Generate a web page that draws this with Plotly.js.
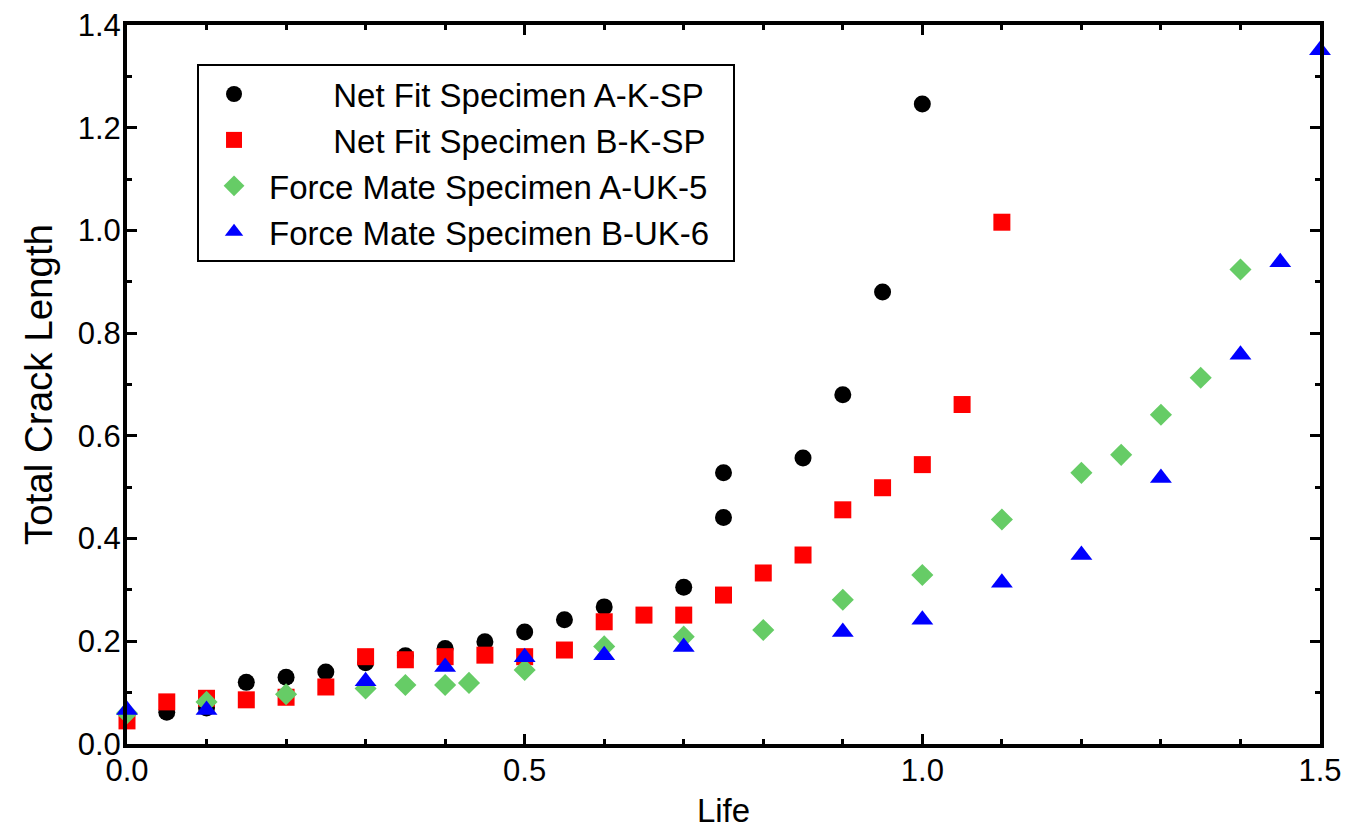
<!DOCTYPE html>
<html>
<head>
<meta charset="utf-8">
<script src="https://cdn.plot.ly/plotly-3.0.1.min.js"></script>
<style>html,body{margin:0;padding:0;background:#fff;}#chart{width:1348px;height:829px;}</style>
</head>
<body>
<div id="chart"></div>
<script>
// Net Fit Specimen A-K-SP
const lifeA_K = [0.05, 0.10, 0.15, 0.20, 0.25, 0.30, 0.35, 0.40, 0.45, 0.50, 0.55, 0.60, 0.70, 0.75, 0.75, 0.85, 0.90, 0.95, 1.00];
const crackA_K = [0.062, 0.070, 0.120, 0.130, 0.140, 0.158, 0.172, 0.186, 0.199, 0.218, 0.242, 0.267, 0.305, 0.441, 0.528, 0.557, 0.680, 0.880, 1.246];
// Net Fit Specimen B-K-SP
const lifeB_K = [0.00, 0.05, 0.10, 0.15, 0.20, 0.25, 0.30, 0.35, 0.40, 0.45, 0.50, 0.55, 0.60, 0.65, 0.70, 0.75, 0.80, 0.85, 0.90, 0.95, 1.00, 1.05, 1.10];
const crackB_K = [0.045, 0.082, 0.089, 0.086, 0.091, 0.111, 0.170, 0.164, 0.170, 0.173, 0.170, 0.183, 0.238, 0.251, 0.251, 0.290, 0.333, 0.368, 0.456, 0.499, 0.544, 0.661, 1.016];
// Force Mate Specimen A-UK-5
const lifeA_UK5 = [0.00, 0.10, 0.20, 0.30, 0.35, 0.40, 0.43, 0.50, 0.60, 0.70, 0.80, 0.90, 1.00, 1.10, 1.20, 1.25, 1.30, 1.35, 1.40];
const crackA_UK5 = [0.060, 0.082, 0.097, 0.108, 0.115, 0.115, 0.119, 0.144, 0.190, 0.209, 0.222, 0.281, 0.329, 0.437, 0.528, 0.563, 0.641, 0.713, 0.924];
// Force Mate Specimen B-UK-6
const lifeB_UK6 = [0.00, 0.10, 0.30, 0.40, 0.50, 0.60, 0.70, 0.90, 1.00, 1.10, 1.20, 1.30, 1.40, 1.45, 1.50];
const crackB_UK6 = [0.066, 0.066, 0.122, 0.150, 0.169, 0.173, 0.189, 0.218, 0.242, 0.314, 0.368, 0.518, 0.758, 0.938, 1.351];

const PAD = "\u00a0\u00a0\u00a0\u00a0\u00a0\u00a0\u00a0";
const TAIL = "\u00a0\u00a0";
const seriesNames = [
  PAD + "Net Fit Specimen A-K-SP" + TAIL,
  PAD + "Net Fit Specimen B-K-SP" + TAIL,
  "Force Mate Specimen A-UK-5" + TAIL,
  "Force Mate Specimen B-UK-6" + TAIL
];
const xTicks = [0.0, 0.5, 1.0, 1.5];
const yTicks = [0.0, 0.2, 0.4, 0.6, 0.8, 1.0, 1.2, 1.4];

const FONT = "Liberation Sans, Arial, sans-serif";

function tr(x, y, name, symbol, color, size, grp) {
  return {
    x: x, y: y, name: name, type: "scatter", mode: "markers",
    legendgroup: grp, cliponaxis: false,
    marker: {symbol: symbol, color: color, size: size, line: {width: 0}}
  };
}

const data = [
  tr(lifeA_K, crackA_K, seriesNames[0], "circle", "#000000", 17, "g1"),
  tr(lifeB_K, crackB_K, seriesNames[1], "square", "#ff0000", 17, "g2"),
  tr(lifeA_UK5, crackA_UK5, seriesNames[2], "diamond", "#66cc66", 17, "g3"),
  tr(lifeB_UK6, crackB_UK6, seriesNames[3], "triangle-up", "#0000ff", 19, "g4")
];

const axisCommon = {
  showgrid: false, zeroline: false,
  showline: true, linecolor: "#000", linewidth: 4, mirror: "ticks",
  ticks: "inside", ticklen: 10, tickwidth: 3, tickcolor: "#000",
  tickfont: {family: FONT, size: 31, color: "#000"},
  tickformat: ".1f", fixedrange: true
};

const layout = {
  width: 1348, height: 829,
  paper_bgcolor: "#fff", plot_bgcolor: "#fff",
  margin: {l: 127, r: 28, t: 25, b: 85},
  font: {family: FONT, color: "#000"},
  showlegend: true,
  legend: {
    x: 0.0587, y: 0.9457, xanchor: "left", yanchor: "top",
    bgcolor: "#fff", bordercolor: "#000", borderwidth: 2,
    font: {family: FONT, size: 33, color: "#000"},
    traceorder: "grouped", tracegroupgap: 0,
    itemwidth: 60
  },
  xaxis: Object.assign({}, axisCommon, {
    range: [0, 1.5], tickmode: "array", tickvals: xTicks,
    ticklabelstandoff: -4,
    minor: {dtick: 0.1, tick0: 0, ticks: "inside", ticklen: 5, tickwidth: 3, tickcolor: "#000", showgrid: false},
    title: {text: "Life", font: {family: FONT, size: 33, color: "#000"}, standoff: 18}
  }),
  yaxis: Object.assign({}, axisCommon, {
    range: [0, 1.4], tickmode: "array", tickvals: yTicks,
    ticklabelstandoff: -4,
    minor: {dtick: 0.1, tick0: 0, ticks: "inside", ticklen: 5, tickwidth: 3, tickcolor: "#000", showgrid: false},
    title: {text: "Total Crack Length", font: {family: FONT, size: 38.5, color: "#000"}, standoff: 14}
  })
};

Plotly.newPlot("chart", data, layout, {displayModeBar: false, staticPlot: true});
</script>
</body>
</html>
